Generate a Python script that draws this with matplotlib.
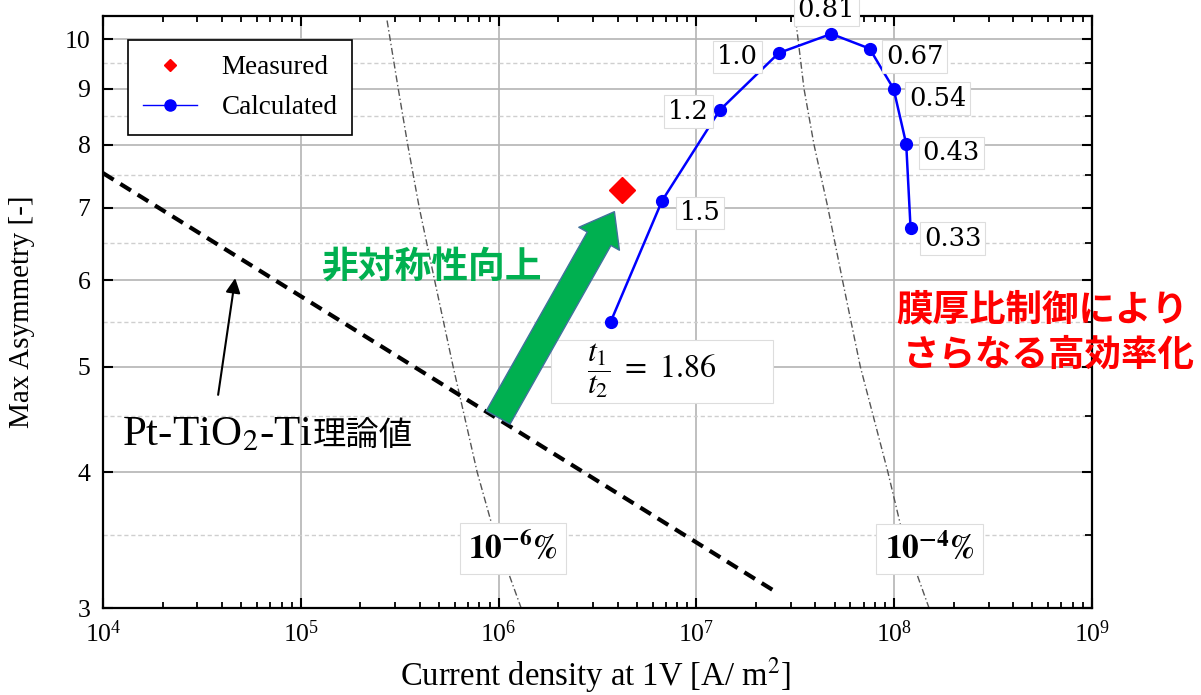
import matplotlib
matplotlib.use("Agg")
import matplotlib.pyplot as plt
import matplotlib.patches as patches
from matplotlib.transforms import IdentityTransform
from matplotlib.ticker import FixedLocator, FixedFormatter, NullFormatter
from matplotlib.lines import Line2D

plt.rcParams['font.family'] = ['Liberation Serif', 'DejaVu Serif']
plt.rcParams['mathtext.fontset'] = 'stix'

# calculated asymmetry vs current density for different t1/t2
current_calc = [3.69e6, 6.70e6, 1.31e7, 2.61e7, 4.81e7, 7.51e7, 9.93e7, 1.15e8, 1.21e8]
asym_calc = [5.50, 7.10, 8.60, 9.71, 10.11, 9.80, 9.00, 8.01, 6.70]
ratio_labels = ["1.86", "1.5", "1.2", "1.0", "0.81", "0.67", "0.54", "0.43", "0.33"]

current_meas = [4.19e6]
asym_meas = [7.27]

# Pt-TiO2-Ti theoretical line
theory_current = [1e4, 2.55e7]
theory_asym = [7.53, 3.10]

# efficiency contours
contour_asym = [10.4, 9, 8, 7, 6, 5, 4, 3.5, 3]
contour_1e6 = [2.73e5, 3.11e5, 3.47e5, 3.97e5, 4.75e5, 5.89e5, 7.79e5, 9.57e5, 1.30e6]
contour_1e4 = [3.18e7, 3.50e7, 3.93e7, 4.62e7, 5.48e7, 6.74e7, 9.29e7, 1.107e8, 1.50e8]

y_ticks = [3, 4, 5, 6, 7, 8, 9, 10]
y_minor = [3.5, 4.5, 5.5, 6.5, 7.5, 8.5, 9.5]

W, H = 1201, 695
fig = plt.figure(figsize=(W / 100, H / 100), dpi=100)
ax = fig.add_axes([103 / W, 1 - 608 / H, 989 / W, 592 / H])

ax.set_xscale('log')
ax.set_yscale('log')
ax.set_xlim(1e4, 1e9)
ax.set_ylim(3, 10.5)

ax.yaxis.set_major_locator(FixedLocator(y_ticks))
ax.yaxis.set_major_formatter(FixedFormatter([str(v) for v in y_ticks]))
ax.yaxis.set_minor_locator(FixedLocator(y_minor))
ax.yaxis.set_minor_formatter(NullFormatter())

ax.grid(which='major', color='#b4b4b4', lw=1.2)
ax.grid(which='minor', axis='y', color='#cfcfcf', lw=1, ls=(0, (3, 2)))
ax.set_axisbelow(True)

ax.tick_params(which='both', direction='in', top=True, right=True, labelsize=18.5)
ax.tick_params(axis='x', which='major', pad=9)
ax.tick_params(axis='y', which='major', pad=9)
ax.tick_params(which='major', length=7, width=1.5)
ax.tick_params(which='minor', length=4, width=1.3)
ax.tick_params(axis='y', which='minor', left=False, right=True, length=5)
for s in ax.spines.values():
    s.set_linewidth(1.6)

# contour lines
ax.plot(contour_1e6, contour_asym, color='#555555', lw=1, ls=(0, (5, 2, 1, 2)), zorder=2)
ax.plot(contour_1e4, contour_asym, color='#555555', lw=1, ls=(0, (5, 2, 1, 2)), zorder=2)

ax.plot(theory_current, theory_asym, color='black', lw=3, ls=(0, (3, 1.9)), zorder=3)

ax.plot(current_calc, asym_calc, color='blue', lw=1.8, marker='o', ms=8.5, zorder=5)
ax.plot(current_meas, asym_meas, color='red', ls='none', marker='D', ms=13, zorder=5)

# ratio labels
offsets = [(41, -49), (38, -12), (-31, -1), (-41, -4), (-5, 24), (45, -8), (44, -10), (45, -9), (42, -10)]
box = dict(boxstyle='square,pad=0.15', fc='white', ec='#dddddd', lw=0.8)
for i, lab in enumerate(ratio_labels):
    if i == 0:
        # wide white box behind the fraction label, placed in pixels relative to the point
        px, py = ax.transData.transform((current_calc[i], asym_calc[i]))
        ax.add_patch(patches.Rectangle((px - 60, py - 81), 222, 63, transform=IdentityTransform(),
                                       fc='white', ec='#dddddd', lw=0.8, zorder=6, clip_on=False))
        ax.annotate(r'$\dfrac{t_1}{t_2}\ =\ ' + lab + '$', (current_calc[i], asym_calc[i]),
                    xytext=offsets[i], textcoords='offset pixels', ha='center', va='center',
                    fontsize=23, zorder=6.5, annotation_clip=False)
    else:
        ax.annotate(lab, (current_calc[i], asym_calc[i]), xytext=offsets[i], textcoords='offset pixels',
                    ha='center', va='center', fontsize=18.5, family='DejaVu Serif', bbox=box,
                    zorder=6, annotation_clip=False)

# contour labels
cbox = dict(boxstyle='square,pad=0.25', fc='white', ec='#dddddd', lw=0.8)
ax.text(1.18e6, 3.40, r'$\mathbf{10^{-6}\%}$', fontsize=24, ha='center', va='center', bbox=cbox, zorder=6)
ax.text(1.51e8, 3.40, r'$\mathbf{10^{-4}\%}$', fontsize=24, ha='center', va='center', bbox=cbox, zorder=6)

# legend
handles = [Line2D([], [], color='red', marker='D', ls='none', ms=6),
           Line2D([], [], color='blue', marker='o', lw=1, ms=8)]
leg = ax.legend(handles, ['Measured', 'Calculated'], loc='upper left', bbox_to_anchor=(0.0253, 0.959),
                borderaxespad=0, fontsize=19.5, fancybox=False, framealpha=1, edgecolor='black',
                handlelength=2.0, borderpad=0.55, labelspacing=0.55, handletextpad=0.9)
leg.get_frame().set_linewidth(1.2)

# black arrow pointing at the theory line
ax.annotate('', xy=(4.66e4, 6.03), xytext=(3.82e4, 4.71),
            arrowprops=dict(arrowstyle='-|>', color='black', lw=1.5, mutation_scale=22, shrinkA=0, shrinkB=0))

# green block arrow
ax.annotate('', xy=(3.85e6, 6.94), xytext=(9.95e5, 4.49),
            arrowprops=dict(arrowstyle='simple,head_length=1.6,head_width=2.4,tail_width=1.4',
                            fc='#00b050', ec='#41719c', lw=1, mutation_scale=14, shrinkA=0, shrinkB=0),
            zorder=7)

# axis labels
fig.text(22 / W, 1 - 312 / H, 'Max Asymmetry [-]', rotation=90, ha='center', va='center', fontsize=21)
fig.text(595 / W, 1 - 685 / H, 'Current density at 1V [A/ m$^2$]', ha='center', va='baseline', fontsize=23.5)

# text annotations
t1 = fig.text(122 / W, 1 - 445 / H, 'Pt-TiO$_2$-Ti', ha='left', va='baseline', fontsize=31)
r = fig.canvas.get_renderer()
x1 = t1.get_window_extent(renderer=r).x1
fig.text(x1 / W, 1 - 445 / H, '理論値', ha='left', va='baseline', fontsize=24,
         family=['Noto Sans CJK JP', 'DejaVu Sans'])

fig.text(431 / W, 1 - 268 / H, '非対称性向上', ha='center', va='center', fontsize=26.5, color='#00b050',
         fontweight='bold', family=['Noto Sans CJK JP', 'DejaVu Sans'])
fig.text(896 / W, 1 - 310 / H, '膜厚比制御により', ha='left', va='center', fontsize=26.3, color='red',
         fontweight='bold', family=['Noto Sans CJK JP', 'DejaVu Sans'])
fig.text(903 / W, 1 - 355 / H, 'さらなる高効率化', ha='left', va='center', fontsize=26.3, color='red',
         fontweight='bold', family=['Noto Sans CJK JP', 'DejaVu Sans'])

fig.savefig('out.png', dpi=100)
